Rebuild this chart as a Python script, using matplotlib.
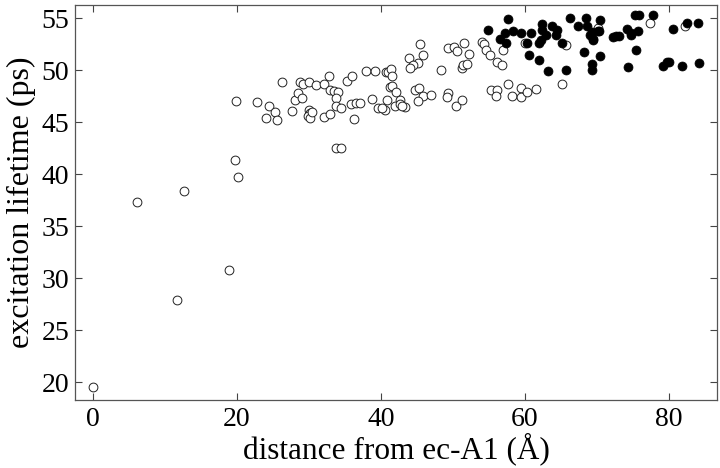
import matplotlib
matplotlib.use("Agg")
import matplotlib.pyplot as plt

# open circles
open_x = [0.05, 6.07, 12.6, 11.7, 18.9, 19.7, 20.2, 19.9, 22.8, 24.4, 25.3, 24.0, 25.6, 26.2,
          27.7, 28.1, 28.5, 28.7, 29.2, 29.1, 30.0, 31.0, 32.1, 32.8, 30.0, 30.2, 29.9, 30.1,
          30.4, 32.1, 32.9, 33.0, 33.5, 34.1, 33.8, 33.8, 34.5, 33.75, 34.4, 35.3, 36.0, 35.8,
          36.5, 37.1, 36.2, 37.9, 39.2, 40.7, 41.0, 41.4, 41.6, 41.2, 41.5, 42.1, 38.8, 40.9,
          42.7, 39.6, 40.6, 40.1, 41.9, 42.6, 43.3, 42.9, 44.7, 45.3, 45.8, 46.9, 45.2, 48.3,
          45.4, 43.9, 45.8, 45.2, 44.4, 44.0, 49.3, 50.1, 50.6, 51.6, 52.3, 51.2, 51.4, 52.0,
          49.3, 49.2, 50.4, 51.25, 54.1, 54.3, 54.6, 55.2, 55.3, 56.1, 56.0, 56.9, 56.1, 56.8,
          57.6, 58.2, 59.4, 59.5, 60.3, 61.5, 60.0, 65.7, 65.2, 70.1, 77.4, 82.2]
open_y = [19.55, 37.3, 38.4, 27.9, 30.8, 41.4, 39.7, 47.05, 46.9, 46.6, 46.0, 45.4, 45.2, 48.9,
          46.05, 47.1, 47.8, 48.9, 48.7, 47.3, 48.9, 48.6, 48.7, 49.4, 46.2, 45.9, 45.6, 45.4,
          46.0, 45.5, 45.8, 48.1, 48.0, 47.9, 47.3, 46.6, 46.4, 42.5, 42.5, 49.0, 49.4, 46.7,
          46.8, 46.8, 45.3, 49.9, 49.9, 49.8, 49.8, 50.1, 49.4, 48.4, 48.5, 47.9, 47.2, 47.1,
          47.1, 46.4, 46.2, 46.4, 46.6, 46.7, 46.5, 46.6, 48.1, 48.3, 47.5, 47.6, 47.0, 50.0,
          52.5, 51.2, 51.5, 50.7, 50.5, 50.2, 52.1, 52.2, 51.8, 52.6, 51.6, 50.2, 50.5, 50.6,
          47.8, 47.4, 46.6, 47.1, 52.7, 52.5, 51.9, 51.5, 48.1, 48.1, 47.5, 51.9, 50.8, 50.5,
          48.7, 47.5, 48.3, 47.4, 47.9, 48.2, 52.6, 52.4, 48.7, 54.1, 54.5, 54.2]

# filled dots
fill_x = [54.9, 57.7, 57.2, 58.3, 56.5, 57.4, 59.5, 60.9, 60.3, 60.6, 62.0, 62.4, 62.4, 63.0,
          62.3, 62.0, 63.8, 64.5, 64.3, 65.2, 63.2, 65.7, 66.3, 67.4, 68.5, 68.6, 69.3, 69.0,
          69.5, 70.2, 68.2, 69.3, 69.3, 70.4, 70.3, 69.5, 70.5, 75.3, 75.9, 77.8, 74.2, 74.8,
          74.7, 75.7, 72.3, 72.7, 73.1, 75.4, 74.3, 79.2, 79.7, 80.0, 80.6, 81.8, 82.5, 84.1,
          84.2]
fill_y = [53.9, 54.9, 53.6, 53.8, 53.0, 52.6, 53.6, 53.6, 52.6, 51.5, 51.0, 54.4, 53.9, 53.4,
          52.9, 52.6, 54.2, 53.9, 53.4, 52.6, 49.9, 50.0, 55.0, 54.2, 55.0, 54.2, 53.7, 53.4,
          53.0, 53.8, 51.7, 50.6, 50.0, 54.8, 53.8, 52.9, 51.4, 55.3, 55.3, 55.3, 54.0, 53.4,
          53.6, 53.8, 53.2, 53.3, 53.3, 51.9, 50.3, 50.4, 50.8, 50.8, 54.0, 50.4, 54.5, 54.5,
          50.7]

plt.rcParams['font.family'] = ['Liberation Serif', 'DejaVu Serif']

fig = plt.figure(figsize=(7.2, 4.68), dpi=100)
ax = fig.add_axes([0.104, 0.145, 0.892, 0.844])

ax.scatter(open_x, open_y, s=40, facecolors='white', edgecolors='#222222', linewidths=0.7, zorder=2)
ax.scatter(fill_x, fill_y, s=42, facecolors='black', edgecolors='black', linewidths=0.5, zorder=3)

ax.set_xlim(-2.5, 86.7)
ax.set_ylim(18.27, 56.25)
ax.set_xticks([0, 20, 40, 60, 80])
ax.set_yticks([20, 25, 30, 35, 40, 45, 50, 55])
ax.tick_params(direction='in', top=True, right=True, length=5, width=0.8,
               colors='#444444', labelcolor='black', labelsize=20, pad=4)
ax.tick_params(axis='x', pad=5)
for sp in ax.spines.values():
    sp.set_color('#555555')
    sp.set_linewidth(0.9)

ax.set_xlabel("distance from ec-A1 (Å)", fontsize=22.5, labelpad=0)
ax.set_ylabel("excitation lifetime (ps)", fontsize=23, labelpad=4)

fig.savefig("out.png", dpi=100)
